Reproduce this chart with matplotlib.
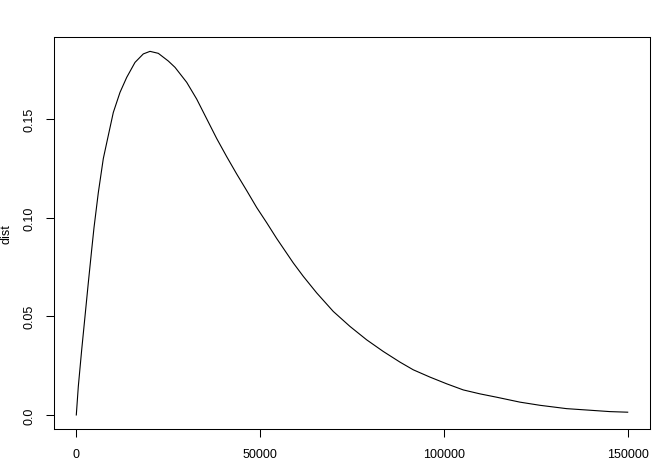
import matplotlib
matplotlib.use("Agg")
import matplotlib.pyplot as plt

# values
x_vals = [0, 543, 1467, 2364, 3261, 4185, 4810, 5978, 7337, 8261, 10054,
          11875, 13696, 15951, 18207, 20027, 22283, 25000, 26821, 30000,
          32717, 35435, 38152, 40870, 43587, 46304, 49022, 51739, 54457,
          58967, 61685, 65326, 69837, 74375, 78913, 83424, 87962, 91576,
          96114, 100652, 105163, 109701, 114239, 120571, 126005, 133261,
          139592, 145027, 149850]
dist_vals = [0.0, 0.0144, 0.0331, 0.0500, 0.0670, 0.0839, 0.0950, 0.1127,
             0.1300, 0.1380, 0.1534, 0.1636, 0.1712, 0.1788, 0.1831, 0.1844,
             0.1834, 0.1795, 0.1763, 0.1687, 0.1602, 0.1502, 0.1402, 0.1310,
             0.1222, 0.1138, 0.1052, 0.0975, 0.0895, 0.0771, 0.0703, 0.0619,
             0.0525, 0.0449, 0.0381, 0.0322, 0.0268, 0.0229, 0.0192, 0.0158,
             0.0127, 0.0107, 0.0090, 0.0065, 0.0049, 0.0032, 0.0024, 0.0017,
             0.0014]

x_ticks = [0, 50000, 100000, 150000]
x_labels = ["0", "50000", "100000", "150000"]
y_ticks = [0.0, 0.05, 0.10, 0.15]
y_labels = ["0.0", "0.05", "0.10", "0.15"]

plt.rcParams['font.family'] = ['Liberation Sans', 'DejaVu Sans']

fig = plt.figure(figsize=(6.67, 4.77), dpi=100)
ax = fig.add_axes([0.0813, 0.0975, 0.8937, 0.8225])

ax.plot(x_vals, dist_vals, color='black', linewidth=0.8)

# R style 4% padding around the data range
ax.set_xlim(-6000, 156000)
ax.set_ylim(-0.00737, 0.1916)

ax.set_xticks(x_ticks)
ax.set_xticklabels(x_labels, fontsize=9)
ax.set_yticks(y_ticks)
ax.set_yticklabels(y_labels, fontsize=9, rotation=90, va='center')
ax.tick_params(direction='out', length=5.5, width=0.75, pad=8)

for s in ax.spines.values():
    s.set_linewidth(0.75)

ax.set_ylabel('dist', fontsize=9, labelpad=8)
ax.set_facecolor('white')

fig.savefig('out.png', dpi=100)
